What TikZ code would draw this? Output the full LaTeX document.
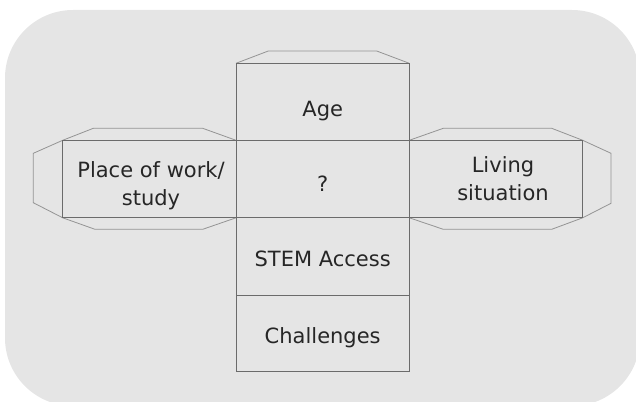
\documentclass[tikz,border=0pt]{standalone}
\usepackage{fontspec}
\setmainfont{DejaVu Sans}
\begin{document}
\begin{tikzpicture}[x=1pt,y=-1pt,
  facecol/.style={draw=black!58,line width=1pt},
  flapcol/.style={draw=black!42,line width=0.8pt,line join=miter},
  lbl/.style={font=\fontsize{21}{28}\selectfont,text=black!85,align=center,inner sep=0pt}]
\useasboundingbox (0,0) rectangle (636,401);
\fill[fill=black!10,rounded corners=68pt] (5,10) rectangle (640,406);
% coordinates
\coordinate (cTL) at (236,63.3);
\coordinate (cTR) at (409.3,63.3);
\coordinate (cBL) at (236,371);
\coordinate (cBR) at (409.3,371);
% top flap
\draw[flapcol] (cTL) -- (268.3,51) -- (376.7,51) -- (cTR);
% left wing flaps
\draw[flapcol] (62.7,140.3) -- (93.3,128.3) -- (202.7,128.3) -- (236,140.3);
\draw[flapcol] (62.7,217.8) -- (95,229.3) -- (202.7,229.3) -- (236,217.8);
\draw[flapcol] (62.7,140.3) -- (33.3,153.3) -- (33.3,202.7) -- (62.7,217.8);
% right wing flaps
\draw[flapcol] (409.3,140.3) -- (443.3,128.3) -- (551.7,128.3) -- (582.7,140.3);
\draw[flapcol] (409.3,217.8) -- (443.3,229.3) -- (551.7,229.3) -- (582.7,217.8);
\draw[flapcol] (582.7,140.3) -- (611,153.3) -- (611,203.3) -- (582.7,217.8);
% faces
\draw[facecol] (cTL) rectangle (cBR);
\draw[facecol] (62.7,140.3) rectangle (582.7,217.8);
\draw[facecol] (236,295) -- (409.3,295);
% labels
\node[lbl,anchor=base] (age) at (322.7,116) {Age};
\node[lbl,anchor=base] (q) at (322.7,191.7) {?};
\node[lbl,anchor=base] (stem) at (322.7,266.7) {STEM Access};
\node[lbl,anchor=base] (chal) at (322.7,343.3) {Challenges};
\node[lbl] (place) at (151,185.5) {Place of work/\\study};
\node[lbl] (living) at (503,179) {Living\\situation};
\end{tikzpicture}
\end{document}
